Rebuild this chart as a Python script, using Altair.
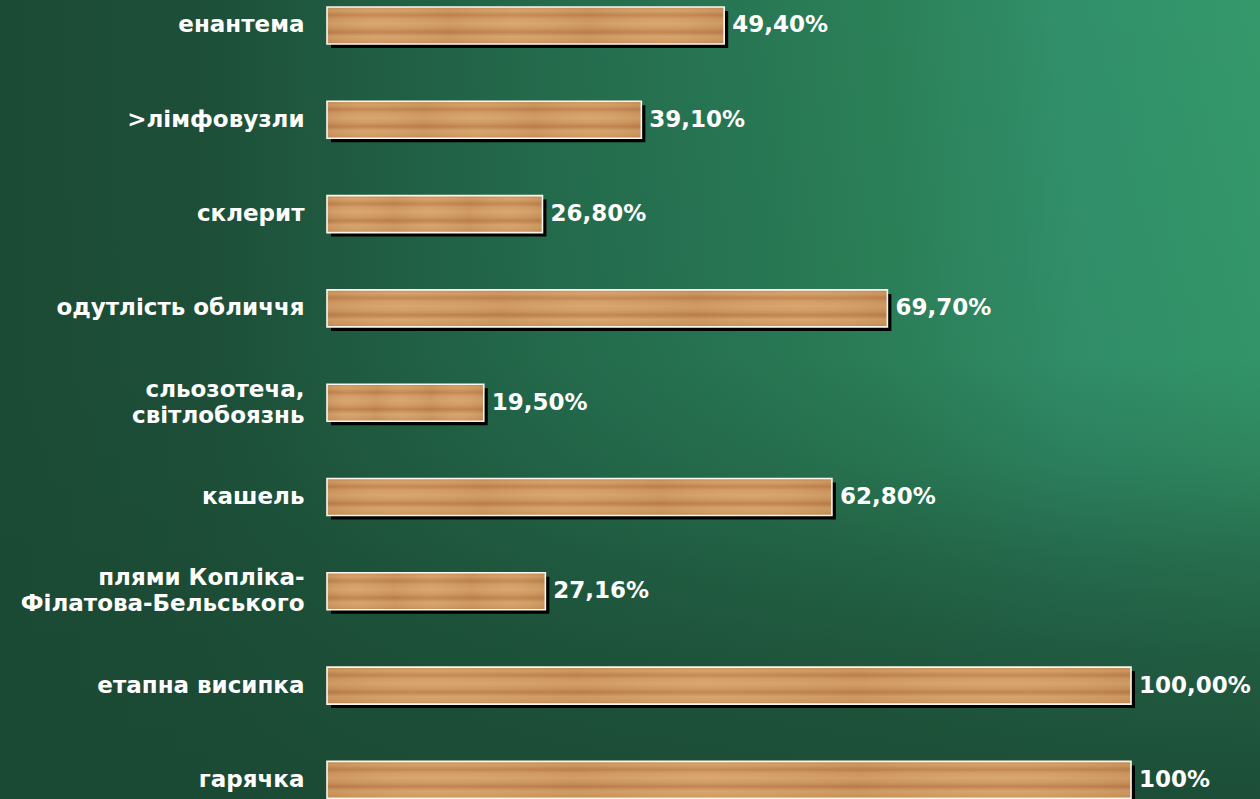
import altair as alt
import pandas as pd

categories = [
    "енантема",
    ">лімфовузли",
    "склерит",
    "одутлість обличчя",
    "сльозотеча,|світлобоязнь",
    "кашель",
    "плями Копліка-|Філатова-Бельського",
    "етапна висипка",
    "гарячка",
]
values = [49.4, 39.1, 26.8, 69.7, 19.5, 62.8, 27.16, 100, 100]
value_labels = ["49,40%", "39,10%", "26,80%", "69,70%", "19,50%", "62,80%", "27,16%", "100,00%", "100%"]

df = pd.DataFrame({"category": categories, "value": values, "label": value_labels})

W, H = 804, 799
LEFT, RIGHT = 327, 129
FONT = "DejaVu Sans"

# background: horizontal light-to-right gradient, darkened towards the bottom
bg_horizontal = {
    "gradient": "linear",
    "x1": 0, "y1": 0, "x2": 1, "y2": 0,
    "stops": [
        {"offset": 0.0, "color": "#1c4b35"},
        {"offset": 0.16, "color": "#1d4f38"},
        {"offset": 0.26, "color": "#1f5a40"},
        {"offset": 0.45, "color": "#246c4d"},
        {"offset": 0.57, "color": "#277553"},
        {"offset": 0.7, "color": "#2b8058"},
        {"offset": 0.85, "color": "#31906a"},
        {"offset": 1.0, "color": "#34986b"},
    ],
}
bg_vertical = {
    "gradient": "linear",
    "x1": 0, "y1": 0, "x2": 0, "y2": 1,
    "stops": [
        {"offset": 0.0, "color": "rgba(27,74,52,0)"},
        {"offset": 0.45, "color": "rgba(27,74,52,0.05)"},
        {"offset": 0.58, "color": "rgba(27,74,52,0.25)"},
        {"offset": 0.7, "color": "rgba(27,74,52,0.55)"},
        {"offset": 0.82, "color": "rgba(27,74,52,0.77)"},
        {"offset": 1.0, "color": "rgba(27,74,52,0.95)"},
    ],
}

wood_gradient = {
    "gradient": "linear",
    "x1": 0, "y1": 0, "x2": 0, "y2": 1,
    "stops": [
        {"offset": 0.0, "color": "#c99158"},
        {"offset": 0.1, "color": "#d59f67"},
        {"offset": 0.22, "color": "#c1854f"},
        {"offset": 0.32, "color": "#d39c64"},
        {"offset": 0.45, "color": "#d8a46c"},
        {"offset": 0.58, "color": "#cf9760"},
        {"offset": 0.68, "color": "#bd814d"},
        {"offset": 0.8, "color": "#d6a26a"},
        {"offset": 0.92, "color": "#d09a62"},
        {"offset": 1.0, "color": "#c68d57"},
    ],
}

grain_gradient = {
    "gradient": "linear",
    "x1": 0, "y1": 0, "x2": 1, "y2": 0,
    "stops": [
        {"offset": 0.0, "color": "rgba(110,60,25,0.10)"},
        {"offset": 0.13, "color": "rgba(255,235,200,0.04)"},
        {"offset": 0.31, "color": "rgba(110,60,25,0.07)"},
        {"offset": 0.47, "color": "rgba(255,235,200,0.05)"},
        {"offset": 0.66, "color": "rgba(110,60,25,0.08)"},
        {"offset": 0.84, "color": "rgba(255,235,200,0.04)"},
        {"offset": 1.0, "color": "rgba(110,60,25,0.10)"},
    ],
}

y_enc = alt.Y(
    "category:N",
    sort=categories,
    scale=alt.Scale(domain=categories, paddingInner=0.6076, paddingOuter=0.0403, align=0.92),
    axis=alt.Axis(
        title=None, domain=False, ticks=False, grid=False,
        labelAlign="right", labelPadding=23, labelFont=FONT, labelFontWeight="bold",
        labelFontSize=23, labelColor="white", labelLimit=400, labelLineHeight=26,
        labelExpr="split(datum.label, '|')",
        labelOffset={"condition": {"test": "indexof(datum.label, '|') >= 0", "value": -13}, "value": 0},
        zindex=1,
    ),
)
x_enc = alt.X("value:Q", scale=alt.Scale(domain=[0, 100], nice=False), axis=None)

one = pd.DataFrame({"a": [0]})
background = alt.Chart(one).mark_rect(color=bg_horizontal, clip=False).encode(
    x=alt.value(-LEFT), x2=alt.value(W + RIGHT), y=alt.value(0), y2=alt.value(H)
)
shade = alt.Chart(one).mark_rect(color=bg_vertical, clip=False).encode(
    x=alt.value(-LEFT), x2=alt.value(W + RIGHT), y=alt.value(0), y2=alt.value(H)
)

base = alt.Chart(df)

shadow = base.mark_bar(color="black", xOffset=4, yOffset=4).encode(x=x_enc, y=y_enc)
wood = base.mark_bar(color=wood_gradient).encode(x=x_enc, y=y_enc)
grain = base.mark_bar(color=grain_gradient).encode(x=x_enc, y=y_enc)
outline = base.mark_bar(fill="transparent", stroke="#fbf6ee", strokeWidth=1.6).encode(x=x_enc, y=y_enc)

texts = base.mark_text(
    align="left", baseline="middle", dx=8, font=FONT, fontWeight="bold", fontSize=23, color="white"
).encode(x=x_enc, y=y_enc, text="label:N")

chart = (
    alt.layer(background, shade, shadow, wood, grain, outline, texts)
    .properties(
        width=W, height=H,
        padding={"left": LEFT, "right": RIGHT, "top": 0, "bottom": 0},
        autosize="none",
    )
    .configure_view(stroke=None)
)

chart.save("out.html", embed_options={"renderer": "svg", "actions": False})
